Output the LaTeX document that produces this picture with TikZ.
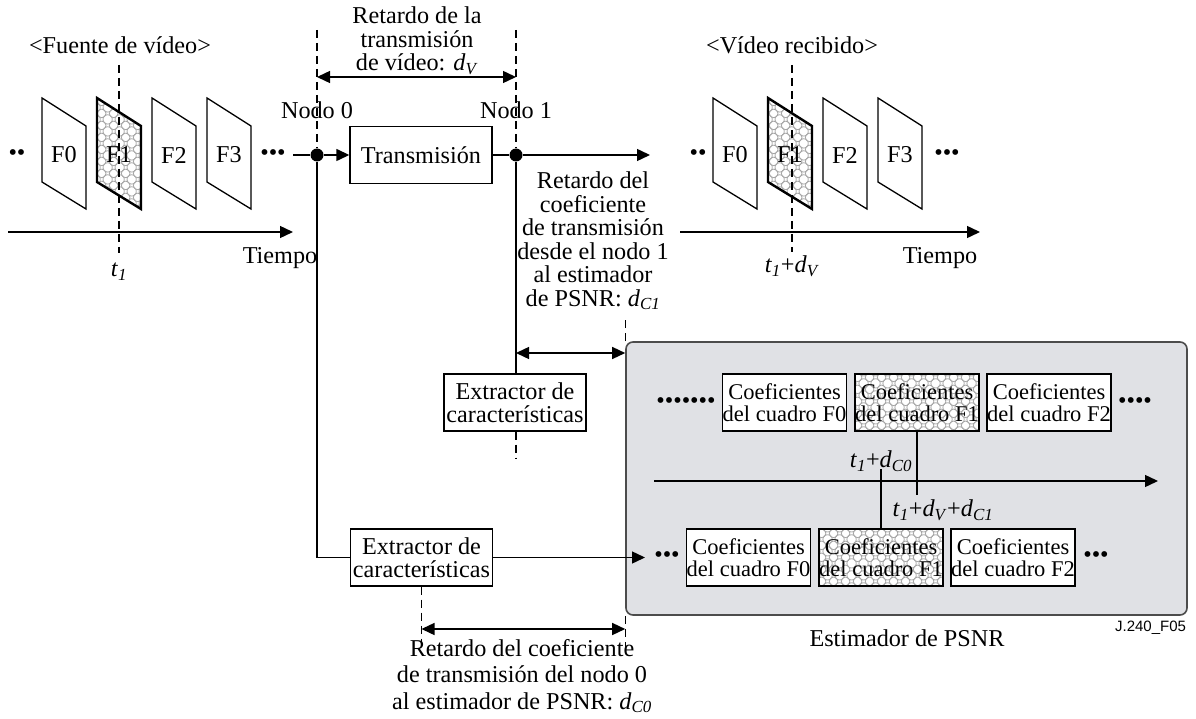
\documentclass[tikz,border=0pt]{standalone}
\usepackage{fontspec}
\setmainfont{Liberation Serif}
\setsansfont{Liberation Sans}
\usetikzlibrary{arrows.meta,patterns.meta,positioning}

\newcommand{\diag}{\fontsize{24.2}{23.5}\selectfont}
\newcommand{\coef}{\fontsize{22.5}{21.5}\selectfont}
\newcommand{\vs}[2]{\textit{#1}\textsubscript{\textit{#2}}}

\tikzdeclarepattern{
  name=lattice,
  type=uncolored,
  bounding box={(0pt,0pt) and (12pt,12pt)},
  tile size={(12pt,12pt)},
  code={
    \draw[line width=0.8pt] (6pt,6pt) circle[radius=4.6pt]
      (0pt,0pt) circle[radius=4.6pt] (12pt,0pt) circle[radius=4.6pt]
      (0pt,12pt) circle[radius=4.6pt] (12pt,12pt) circle[radius=4.6pt];
  }
}

\tikzset{
  arr/.style={-{Triangle[length=13pt,width=12pt]}},
  twoarr/.style={{Triangle[length=13pt,width=12pt]}-{Triangle[length=13pt,width=12pt]}},
  guide/.style={dashed,dash pattern=on 8pt off 5pt,line width=1.3pt},
  vframe/.style={draw,line width=1.3pt,fill=white},
  hatchframe/.style={draw,line width=2.4pt,pattern=lattice,pattern color=gray!70},
  blk/.style={draw,fill=white,minimum width=142pt,minimum height=57pt,inner sep=0pt,align=center},
  coefbox/.style={draw,fill=white,minimum width=124pt,minimum height=57pt,inner sep=0pt,align=center,font=\coef},
  coefhatch/.style={coefbox,line width=2.2pt,preaction={fill=white},pattern=lattice,pattern color=gray!70},
  nodedot/.style={circle,fill,inner sep=0pt,minimum size=13pt},
  estbox/.style={draw=black!70,line width=1.6pt,fill={rgb,255:red,224;green,225;blue,229},rounded corners=7pt,minimum width=561pt,minimum height=273pt}
}

\begin{document}
\begin{tikzpicture}[x=1pt,y=-1pt,line width=1.4pt,every node/.style={font=\diag}]
    \useasboundingbox (0,0) rectangle (1196,719);

    % draw estimator box
    \node[estbox] (est) at (906.5,478.5) {};

    % draw frames of source and received video
    \foreach \x/\f/\s/\n in {42/0/vframe/s0,97/1/hatchframe/s1,152/2/vframe/s2,207/3/vframe/s3,
                             713/0/vframe/r0,768/1/hatchframe/r1,823/2/vframe/r2,878/3/vframe/r3}
    \draw[\s] (\x,98) -- ++(44,28) -- ++(0,83) -- ++(-44,-27) -- cycle
              (\x+22,155) node (\n) {F\f};

    % draw dots
    \node (dotsa) at (17,155) {••};
    \node (dotsb) at (273,155) {•••};
    \node (dotsc) at (698,155) {••};
    \node (dotsd) at (947,155) {•••};

    % draw titles
    \node (fuente) at (120,45) {<Fuente de vídeo>};
    \node (recibido) at (792,45) {<Vídeo recibido>};

    % draw time axes
    \draw[arr] (8,232) -- (293,232);
    \draw[arr] (680,232) -- (980,232);
    \node (tiempoa) at (280,258) {Tiempo};
    \node (tiempob) at (940,258) {Tiempo};
    \draw[guide] (119,65) -- (119,253);
    \draw[guide] (792,65) -- (792,252);
    \node (ta) at (119,272) {\vs{t}{1}};
    \node (tb) at (792,266) {\vs{t}{1}+\vs{d}{V}};

    % draw nodes of the path
    \node[nodedot] (n0) at (317,155) {};
    \node[nodedot] (n1) at (516,155) {};
    \node (nodo0) at (317,110) {Nodo 0};
    \node (nodo1) at (516,110) {Nodo 1};
    \node[blk] (trans) at (421,155) {Transmisión};
    \node[blk] (ext1) at (515,402.5) {Extractor de\\características};
    \node[blk] (ext0) at (421.5,557.5) {Extractor de\\características};
    \coordinate (srcend) at (293,155);
    \coordinate (out1) at (650,155);
    \coordinate (in0) at (645,557.5);

    % draw connectors
    \draw (srcend) -- (n0);
    \draw[arr] (n0) -- (trans);
    \draw (trans) -- (n1);
    \draw[arr] (n1) -- (out1);
    \draw (n0) |- (ext0);
    \draw[line width=2.6pt] (n1) -- (n1 |- ext1.north);
    \draw[arr] (ext0) -- (in0);

    % draw delays
    \draw[guide] (317,30) -- (n0);
    \draw[guide] (516,30) -- (n1);
    \draw[twoarr] (317,77) -- (516,77);
    \node[align=center] (dvtxt) at (417,41) {Retardo de la\\transmisión\\de vídeo: \vs{d}{V}};

    \node[align=center] (dc1txt) at (593,241) {Retardo del\\coeficiente\\de transmisión\\desde el nodo 1\\al estimador\\de PSNR: \vs{d}{C1}};
    \draw[guide] (est.north west) -- ++(0,-22);
    \draw[twoarr] (n1 |- 0,353) -- (est.north west |- 0,353);
    \draw[guide] (n1 |- ext1.south) -- ++(0,27);

    \draw[guide] (ext0.south) -- ++(0,62);
    \draw[guide] (est.south west) -- ++(0,35);
    \draw[twoarr] (ext0.south |- 0,629) -- (est.south west |- 0,629);
    \node[align=center,font=\fontsize{24.2}{26.5}\selectfont] (dc0txt) at (522,676) {Retardo del coeficiente\\de transmisión del nodo 0\\al estimador de PSNR: \vs{d}{C0}};

    % draw coefficients in the estimator
    \node (dotse) at (686,403) {•••••••};
    \node[coefbox] (ca) at (784.5,402.5) {Coeficientes\\del cuadro F0};
    \node[coefhatch] (cb) at (917,402.5) {Coeficientes\\del cuadro F1};
    \node[coefbox] (cc) at (1049,402.5) {Coeficientes\\del cuadro F2};
    \node (dotsf) at (1135,403) {••••};

    \node (dotsg) at (667,557.5) {•••};
    \node[coefbox] (da) at (748.5,557.5) {Coeficientes\\del cuadro F0};
    \node[coefhatch] (db) at (881,557.5) {Coeficientes\\del cuadro F1};
    \node[coefbox] (dc) at (1013,557.5) {Coeficientes\\del cuadro F2};
    \node (dotsh) at (1096,557.5) {•••};

    \coordinate (axa) at (654,481);
    \coordinate (axb) at (1158,481);
    \draw[arr] (axa) -- (axb);
    \draw[line width=1.8pt] (cb) -- ++(0,92.5);
    \draw[line width=1.8pt] (db.north) -- ++(0,-59);
    \node (lbla) at (881,461) {\vs{t}{1}+\vs{d}{C0}};
    \node (lblb) at (943,510) {\vs{t}{1}+\vs{d}{V}+\vs{d}{C1}};

    \node (esttxt) at (907,638) {Estimador de PSNR};
    \node[anchor=east,font=\sffamily\fontsize{15}{15}\selectfont] (fig) at (1190,628) {J.240\_F05};
\end{tikzpicture}
\end{document}
